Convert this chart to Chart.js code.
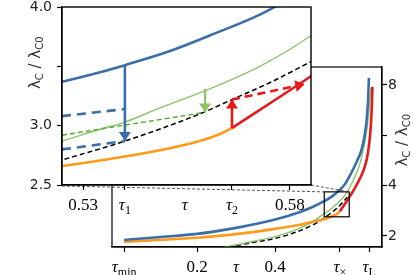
<!DOCTYPE html>
<html>
<head>
<meta charset="utf-8">
<script src="https://cdn.jsdelivr.net/npm/chart.js@4.4.0/dist/chart.umd.min.js"></script>
<style>
  html, body { margin: 0; padding: 0; background: #fff; }
  #wrap { position: relative; width: 415px; height: 275px; }
  canvas { position: absolute; left: 0; top: 0; }
</style>
</head>
<body>
<div id="wrap">
  <canvas id="main" width="415" height="275"></canvas>
  <canvas id="inset" width="415" height="275"></canvas>
</div>
<script>
// curves: tau -> lambda_C / lambda_C0
const blueTau = [0.013, 0.1, 0.2, 0.3, 0.4, 0.464, 0.5, 0.5249, 0.5341, 0.5401, 0.5503, 0.5606, 0.5763, 0.59, 0.6, 0.61, 0.62, 0.628, 0.634, 0.638, 0.6405];
const blueLam = [1.84, 1.95, 2.08, 2.32, 2.65, 2.95, 3.18, 3.37, 3.45, 3.51, 3.62, 3.76, 4.0, 4.35, 4.65, 4.98, 5.35, 5.85, 6.5, 7.3, 8.28];
const orangeTau = [0.013, 0.1, 0.2, 0.3, 0.4, 0.464, 0.508, 0.5249, 0.5401, 0.551, 0.5582, 0.5631, 0.566];
const orangeLam = [1.76, 1.84, 1.93, 2.07, 2.28, 2.44, 2.6, 2.66, 2.74, 2.81, 2.87, 2.93, 2.98];
const greenTau = [0.26, 0.336, 0.42, 0.49, 0.5249, 0.5341, 0.5401, 0.5486, 0.5606, 0.5727, 0.5851, 0.6, 0.62, 0.636, 0.646];
const greenLam = [1.52, 1.76, 2.06, 2.51, 2.87, 2.97, 3.03, 3.15, 3.31, 3.5, 3.76, 4.2, 5.0, 6.3, 7.9];
const blackTau = [0.26, 0.336, 0.42, 0.507, 0.5249, 0.5401, 0.559, 0.566, 0.5756, 0.5851];
const blackLam = [1.5, 1.72, 1.98, 2.52, 2.71, 2.87, 3.11, 3.22, 3.37, 3.54];
const redTau = [0.566, 0.5848, 0.6, 0.618, 0.63, 0.638, 0.644, 0.6475, 0.6495];
const redLam = [2.98, 3.41, 3.78, 4.3, 4.75, 5.3, 6.1, 7.0, 7.92];

// inset-only pieces
const blueDashUpTau = [0.5249, 0.5401], blueDashUpLam = [3.08, 3.14];
const blueDashLowTau = [0.5249, 0.5401], blueDashLowLam = [2.8, 2.87];
const greenDashTau = [0.5249, 0.559], greenDashLam = [2.92, 3.11];
const blueArrowTau = [0.5401, 0.5401], blueArrowLam = [3.51, 2.87];
const greenArrowTau = [0.5595, 0.5595], greenArrowLam = [3.31, 3.11];
const redArrowTau = [0.566, 0.566], redArrowLam = [2.98, 3.22];
const redDashTau = [0.566, 0.5835], redDashLam = [3.22, 3.35];

// ticks
const mainXTicks = [0.013, 0.2, 0.3, 0.4, 0.566, 0.641];
const mainXLabels = [['τ', 'min'], ['0.2'], ['τ'], ['0.4'], ['τ', '×'], ['τ', 'L']];
const mainYTicks = [2, 4, 6, 8];
const mainYLabels = ['2', '4', '', '8'];
const insetXTicks = [0.53, 0.5401, 0.5546, 0.566, 0.58];
const insetXLabels = [['0.53'], ['τ', '1'], ['τ'], ['τ', '2'], ['0.58']];
const insetYTicks = [2.5, 3.0, 3.5, 4.0];
const insetYLabels = ['2.5', '3.0', '', '4.0'];
const noMark = [0.3, 0.5546];

const zoomBoxTau = [0.526, 0.590];
const zoomBoxLam = [2.76, 3.75];

const BLUE = '#3b6ea8', ORANGE = '#ff9a1a', GREEN = '#8bc46a', GREEN2 = '#5cb43c', RED = '#e41a1c';

function pts(t, l) { return t.map((v, i) => ({x: v, y: l[i]})); }

function line(t, l, color, width, dash, extra) {
  return Object.assign({
    data: pts(t, l), borderColor: color, borderWidth: width, borderDash: dash || [],
    pointRadius: 0, fill: false, cubicInterpolationMode: 'monotone'
  }, extra || {});
}

function drawLabel(ctx, cx, cy, parts, size) {
  const base = parts[0], sub = parts[1] || '';
  const fBase = (base === 'τ' ? 'italic ' : '') + size + 'px "Liberation Serif"';
  const fSub = Math.round(size * 0.7) + 'px "Liberation Serif"';
  ctx.font = fBase; const w1 = ctx.measureText(base).width;
  ctx.font = fSub; const w2 = sub ? ctx.measureText(sub).width : 0;
  let x = cx - (w1 + w2) / 2;
  const bl = cy + size * 0.35;
  ctx.textAlign = 'left'; ctx.textBaseline = 'alphabetic'; ctx.fillStyle = '#000';
  ctx.font = fBase; ctx.fillText(base, x, bl);
  if (sub) { ctx.font = fSub; ctx.fillText(sub, x + w1, bl + size * 0.25); }
}

function drawTitle(ctx, cx, cy) {
  const parts = [['λ', 'C'], [' / ', ''], ['λ', 'C0']];
  const size = 15, fb = size + 'px "DejaVu Sans"', fs = '10px "DejaVu Sans"';
  let total = 0;
  parts.forEach(p => { ctx.font = fb; total += ctx.measureText(p[0]).width; ctx.font = fs; total += ctx.measureText(p[1]).width; });
  ctx.save();
  ctx.translate(cx, cy); ctx.rotate(-Math.PI / 2);
  ctx.fillStyle = '#333'; ctx.textBaseline = 'alphabetic'; ctx.textAlign = 'left';
  let x = -total / 2;
  parts.forEach(p => {
    ctx.font = fb; ctx.fillText(p[0], x, 5); x += ctx.measureText(p[0]).width;
    ctx.font = fs; ctx.fillText(p[1], x, 8); x += ctx.measureText(p[1]).width;
  });
  ctx.restore();
}

function axisOpts(min, max, vals, pos, size) {
  return {
    type: 'linear', position: pos, min: min, max: max,
    afterBuildTicks: s => { s.ticks = vals.map(v => ({value: v})); },
    afterFit: s => { if (pos === 'bottom') s.height = size; else s.width = size; },
    ticks: {display: false, autoSkip: false},
    grid: {
      display: true, drawOnChartArea: false, drawTicks: true, tickLength: 5, tickWidth: 1.2,
      tickColor: c => (c.tick && noMark.includes(c.tick.value)) ? 'rgba(0,0,0,0)' : '#000'
    },
    border: {display: true, color: '#000', width: 1.2}
  };
}

const mainDeco = {
  id: 'mainDeco',
  afterDraw(chart) {
    const {ctx, chartArea: a, scales: {x, y}} = chart;
    ctx.save();
    ctx.strokeStyle = '#000'; ctx.lineWidth = 1.2;
    ctx.strokeRect(a.left, a.top, a.right - a.left, a.bottom - a.top);
    const bx0 = x.getPixelForValue(zoomBoxTau[0]), bx1 = x.getPixelForValue(zoomBoxTau[1]);
    const by0 = y.getPixelForValue(zoomBoxLam[1]), by1 = y.getPixelForValue(zoomBoxLam[0]);
    ctx.strokeRect(bx0, by0, bx1 - bx0, by1 - by0);
    mainXTicks.forEach((v, i) => drawLabel(ctx, x.getPixelForValue(v), a.bottom + 19, mainXLabels[i], 17));
    ctx.font = '14px "DejaVu Sans"'; ctx.fillStyle = '#222'; ctx.textAlign = 'left'; ctx.textBaseline = 'middle';
    mainYTicks.forEach((v, i) => ctx.fillText(mainYLabels[i], a.right + 6, y.getPixelForValue(v)));
    drawTitle(ctx, a.right + 20, y.getPixelForValue(5.8));
    ctx.restore();
  }
};

const mainChart = new Chart(document.getElementById('main'), {
  type: 'line',
  data: {
    datasets: [
      line(redTau, redLam, RED, 2.6),
      line(blueTau, blueLam, BLUE, 2.6),
      line(orangeTau, orangeLam, ORANGE, 2.6),
      line(greenTau, greenLam, GREEN, 1.4),
      line(blackTau, blackLam, '#000', 1.5, [5, 3])
    ]
  },
  options: {
    responsive: false, animation: false, events: [],
    layout: {padding: {left: 112, top: 67, right: 0, bottom: 0}, autoPadding: false},
    plugins: {legend: {display: false}, tooltip: {enabled: false}},
    scales: {
      x: axisOpts(-0.018, 0.674, mainXTicks, 'bottom', 28),
      y: axisOpts(1.56, 8.71, mainYTicks, 'right', 33)
    }
  },
  plugins: [mainDeco]
});

const insetDeco = {
  id: 'insetDeco',
  beforeDraw(chart) {
    const {ctx, chartArea: a} = chart;
    ctx.save();
    ctx.fillStyle = '#fff';
    ctx.fillRect(a.left, a.top, a.right - a.left, a.bottom - a.top);
    // connector lines to the zoom box
    const mx = mainChart.scales.x, my = mainChart.scales.y;
    ctx.strokeStyle = '#444'; ctx.lineWidth = 0.9; ctx.setLineDash([3, 2]);
    ctx.beginPath();
    ctx.moveTo(a.left, a.bottom + 1); ctx.lineTo(mx.getPixelForValue(zoomBoxTau[0]), my.getPixelForValue(zoomBoxLam[1]));
    ctx.moveTo(a.right, a.bottom); ctx.lineTo(mx.getPixelForValue(zoomBoxTau[1]), my.getPixelForValue(zoomBoxLam[1]));
    ctx.stroke();
    ctx.restore();
  },
  afterDatasetsDraw(chart) {
    const ctx = chart.ctx;
    chart.data.datasets.forEach((ds, i) => {
      if (!ds.arrow) return;
      const el = chart.getDatasetMeta(i).data;
      const p0 = el[el.length - 2], p1 = el[el.length - 1];
      const ang = Math.atan2(p1.y - p0.y, p1.x - p0.x);
      const L = 9, W = 6;
      ctx.save();
      ctx.translate(p1.x, p1.y); ctx.rotate(ang);
      ctx.fillStyle = ds.borderColor;
      ctx.beginPath(); ctx.moveTo(0, 0); ctx.lineTo(-L, -W); ctx.lineTo(-L, W); ctx.closePath(); ctx.fill();
      ctx.restore();
    });
  },
  afterDraw(chart) {
    const {ctx, chartArea: a, scales: {x, y}} = chart;
    ctx.save();
    ctx.strokeStyle = '#000'; ctx.lineWidth = 1.4;
    ctx.strokeRect(a.left, a.top, a.right - a.left, a.bottom - a.top);
    insetXTicks.forEach((v, i) => drawLabel(ctx, x.getPixelForValue(v), a.bottom + 19, insetXLabels[i], 17));
    ctx.font = '14px "DejaVu Sans"'; ctx.fillStyle = '#222'; ctx.textAlign = 'right'; ctx.textBaseline = 'middle';
    insetYTicks.forEach((v, i) => ctx.fillText(insetYLabels[i], a.left - 10, y.getPixelForValue(v)));
    drawTitle(ctx, 35, y.getPixelForValue(3.53));
    ctx.restore();
  }
};

const insetChart = new Chart(document.getElementById('inset'), {
  type: 'line',
  data: {
    datasets: [
      line(redDashTau, redDashLam, RED, 2.6, [8, 5], {arrow: true}),
      line(redArrowTau, redArrowLam, RED, 2.6, [], {arrow: true}),
      line(greenArrowTau, greenArrowLam, GREEN, 2.2, [], {arrow: true}),
      line(blueArrowTau, blueArrowLam, BLUE, 2.6, [], {arrow: true}),
      line(redTau, redLam, RED, 2.6),
      line(blueTau, blueLam, BLUE, 2.6),
      line(orangeTau, orangeLam, ORANGE, 2.6),
      line(blueDashUpTau, blueDashUpLam, BLUE, 2.6, [9, 6]),
      line(blueDashLowTau, blueDashLowLam, BLUE, 2.6, [9, 6]),
      line(blackTau, blackLam, '#000', 1.5, [5, 3]),
      line(greenDashTau, greenDashLam, GREEN2, 1.6, [5, 3]),
      line(greenTau, greenLam, GREEN, 1.4)
    ]
  },
  options: {
    responsive: false, animation: false, events: [],
    layout: {padding: {left: 22, top: 7, right: 104, bottom: 60}, autoPadding: false},
    plugins: {legend: {display: false}, tooltip: {enabled: false}},
    scales: {
      x: axisOpts(0.5249, 0.5851, insetXTicks, 'bottom', 30),
      y: axisOpts(2.5, 4.0, insetYTicks, 'left', 40)
    }
  },
  plugins: [insetDeco]
});
</script>
</body>
</html>
